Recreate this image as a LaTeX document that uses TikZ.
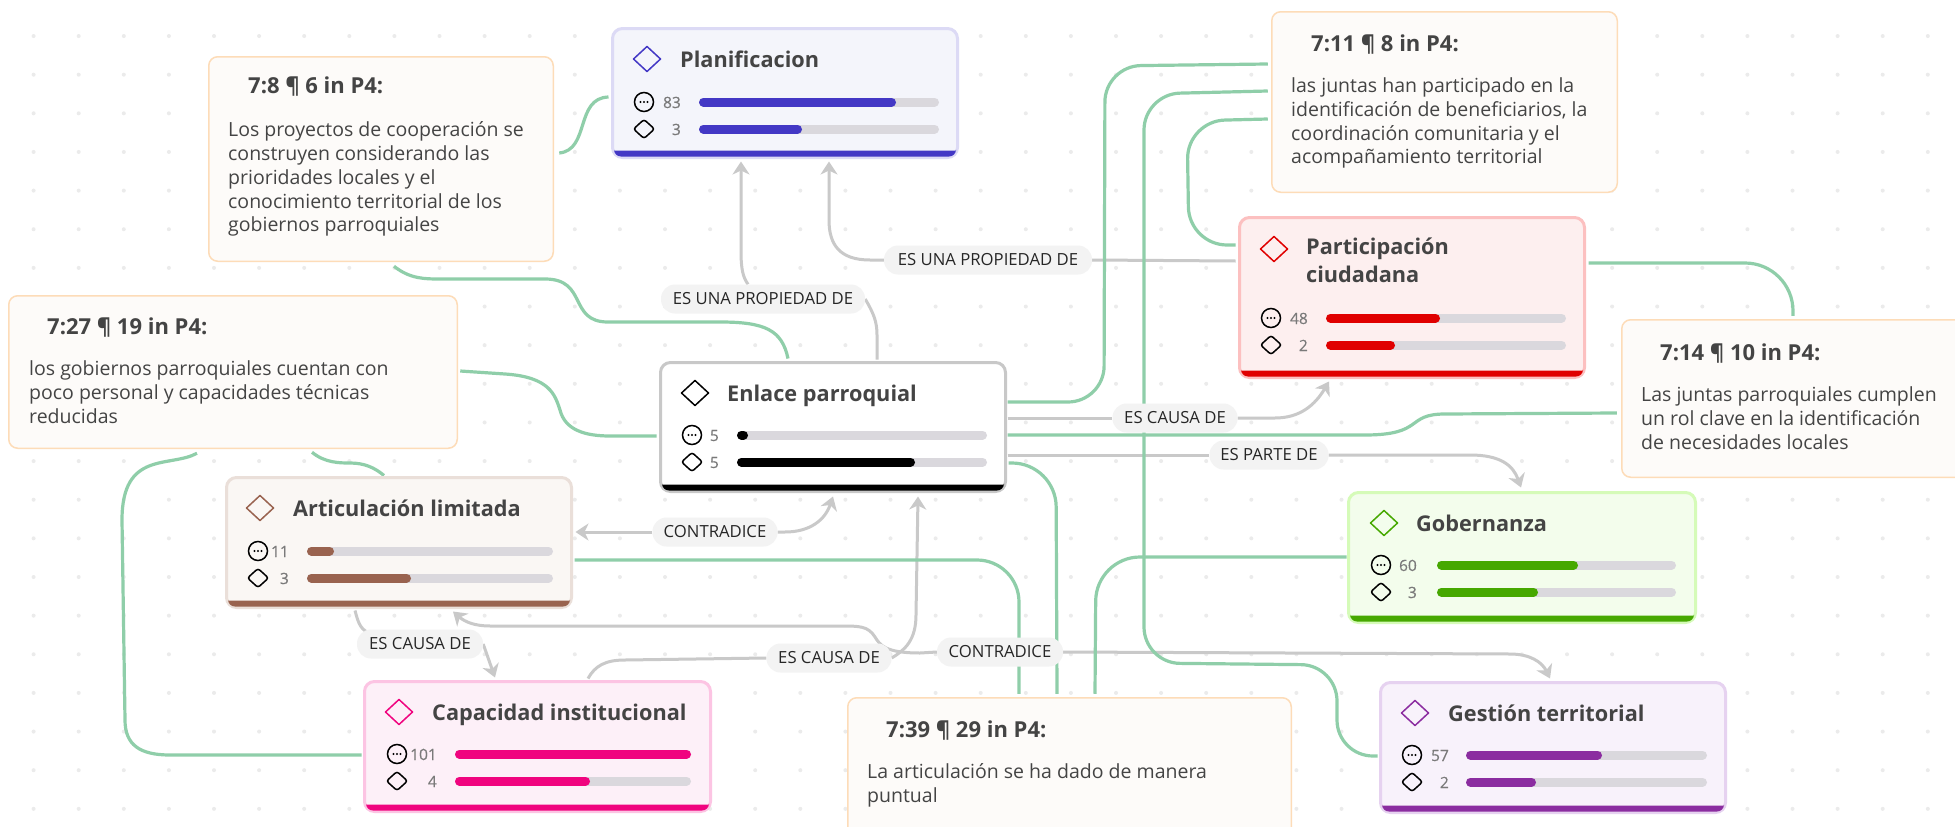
\documentclass[tikz,border=0pt]{standalone}
\usepackage{fontspec}
\setmainfont{Open Sans}
\newcommand{\semifont}{\bfseries}
\newfontfamily\numfont{Open Sans}[FakeBold=0.4]
\usetikzlibrary{arrows.meta}
\definecolor{greenl}{HTML}{8FCEA9}
\definecolor{grayl}{HTML}{C9C9C9}
\definecolor{labbg}{HTML}{F3F3F3}
\definecolor{notebg}{HTML}{FDFBF9}
\definecolor{notebd}{HTML}{FDDCB8}
\definecolor{txt}{HTML}{444444}
\definecolor{numc}{HTML}{7A7A7A}
\definecolor{track}{HTML}{DAD8DD}
\definecolor{cplan}{HTML}{4338C5}\definecolor{bplan}{HTML}{DCDAF5}\definecolor{fplan}{HTML}{F4F5FB}
\definecolor{cenl}{HTML}{000000}\definecolor{benl}{HTML}{C8C8C8}\definecolor{fenl}{HTML}{FFFFFF}
\definecolor{cart}{HTML}{99634F}\definecolor{bart}{HTML}{EADFD9}\definecolor{fart}{HTML}{FAF7F4}
\definecolor{ccap}{HTML}{F0047F}\definecolor{bcap}{HTML}{FCC4E3}\definecolor{fcap}{HTML}{FDF0F8}
\definecolor{cpar}{HTML}{E00000}\definecolor{bpar}{HTML}{FCC0C0}\definecolor{fpar}{HTML}{FDEFEF}
\definecolor{cgob}{HTML}{46A800}\definecolor{bgob}{HTML}{D5FBB8}\definecolor{fgob}{HTML}{F3FDEC}
\definecolor{cges}{HTML}{8B2DA0}\definecolor{bges}{HTML}{E6D2F0}\definecolor{fges}{HTML}{F8F2FB}
\pgfdeclarelayer{under}
\pgfsetlayers{under,main}
\tikzset{
  cardshape/.style={rounded corners=10pt,line width=3pt,inner sep=0pt,outer sep=0pt},
  noteshape/.style={draw=notebd,fill=notebg,rounded corners=9pt,line width=1.5pt,inner sep=0pt,outer sep=0pt},
  cardtitle/.style={anchor=base west,inner sep=0pt,align=left,font=\fontsize{21.7}{33}\semifont,text=txt},
  notetitle/.style={anchor=base west,inner sep=0pt,font=\fontsize{22}{24}\semifont,text=txt},
  notebody/.style={anchor=north west,inner sep=0pt,align=left,text=txt,font=\fontsize{19.5}{23.8}\selectfont},
  numtext/.style={anchor=base east,inner sep=0pt,text=numc,font=\fontsize{15.5}{18}\numfont},
  edgelab/.style={fill=labbg,rounded corners=14pt,inner sep=0pt,minimum height=29pt,text=black!85,font=\fontsize{16.7}{18}\selectfont},
  gline/.style={draw=greenl,line width=3.2pt},
  rline/.style={draw=grayl,line width=3pt},
  rarrow/.style={draw=grayl,line width=3pt,-{Stealth[length=13pt,width=17pt,inset=4pt]}},
}
\newcommand{\cardnode}[6]{%
  \def\cardid{#1}\def\cardcol{c#6}%
  \node[cardshape,draw=b#6,fill=f#6,minimum width={(#4-#2-3)*1pt},minimum height={(#5-#3-3)*1pt}] (#1) at ({(#2+#4)/2},{(#3+#5)/2}) {};
  \fill[c#6] ({#2+3},{#5-8.5}) -- ({#4-3},{#5-8.5}) [rounded corners=7pt] -- ({#4-3},{#5-2.5}) -- ({#2+3},{#5-2.5}) [sharp corners] -- cycle;
}
\newcommand{\carddiamond}[2]{%
  \draw[\cardcol,line width=1.5pt,line join=round] ({#1-13.5},#2) -- (#1,{#2-12.5}) -- ({#1+13.5},#2) -- (#1,{#2+12.5}) -- cycle;
}
\newcommand{\rowgeom}[4]{\def\rowicx{#1}\def\rownum{#2}\def\rowbara{#3}\def\rowbarb{#4}}
\newcommand{\rowbar}[2]{%
  \draw[track,line width=9pt,line cap=round] ({\rowbara+4.5},#1) -- ({\rowbarb-4.5},#1);
  \draw[\cardcol,line width=9pt,line cap=round] ({\rowbara+4.5},#1) -- ({#2-4.5},#1);
}
\newcommand{\rowq}[3]{%
  \draw[black,line width=1.5pt] (\rowicx,#1) circle[radius=9.5pt];
  \foreach \d in {-3.5,0,3.5} \fill[black] ({\rowicx+\d},#1) circle[radius=1.1pt];
  \node[numtext] (\cardid-q) at (\rownum,{#1+6}) {#3};
  \rowbar{#1}{#2}
}
\newcommand{\rowc}[3]{%
  \draw[black,line width=1.5pt,rounded corners=2.5pt] ({\rowicx-10.5},#1) -- (\rowicx,{#1-9.5}) -- ({\rowicx+10.5},#1) -- (\rowicx,{#1+9.5}) -- cycle;
  \node[numtext] (\cardid-c) at (\rownum,{#1+6}) {#3};
  \rowbar{#1}{#2}
}
\newcommand{\notenode}[5]{%
  \node[noteshape,minimum width={(#4-#2-1.5)*1pt},minimum height={(#5-#3-1.5)*1pt}] (#1) at ({(#2+#4)/2},{(#3+#5)/2}) {};
}
\begin{document}
\begin{tikzpicture}[x=1pt,y=-1pt]
\useasboundingbox (0,0) rectangle (1955,827);
\begin{pgfonlayer}{under}
  \fill[white] (0,0) rectangle (1955,827);
  \foreach \i in {0,...,42} \foreach \j in {0,...,21}
    \fill[black!8] ({33.6+45.1*\i},{-2.6+38.64*\j}) circle[radius=2pt];
\end{pgfonlayer}

% ---------- notes
\notenode{n8}{208}{56}{554}{262}
\node[notetitle] (n8t) at (248,93) {7:8 ¶ 6 in P4:};
\node[notebody] (n8b) at (228,121.5) {Los proyectos de cooperación se\\construyen considerando las\\prioridades locales y el\\conocimiento territorial de los\\gobiernos parroquiales};

\notenode{n27}{8}{295}{458}{449}
\node[notetitle] (n27t) at (47,334) {7:27 ¶ 19 in P4:};
\node[notebody] (n27b) at (29,360.5) {los gobiernos parroquiales cuentan con\\poco personal y capacidades técnicas\\reducidas};

\notenode{n11}{1271}{11}{1618}{193}
\node[notetitle] (n11t) at (1311,51) {7:11 ¶ 8 in P4:};
\node[notebody] (n11b) at (1291,77.5) {las juntas han participado en la\\identificación de beneficiarios, la\\coordinación comunitaria y el\\acompañamiento territorial};

\notenode{n14}{1621}{319}{1990}{478}
\node[notetitle] (n14t) at (1660,360) {7:14 ¶ 10 in P4:};
\node[notebody] (n14b) at (1641,386.5) {Las juntas parroquiales cumplen\\un rol clave en la identificación\\de necesidades locales};

\notenode{n39}{847}{697}{1292}{860}
\node[notetitle] (n39t) at (886,737) {7:39 ¶ 29 in P4:};
\node[notebody] (n39b) at (867,763.5) {La articulación se ha dado de manera\\puntual};

% ---------- cards
\cardnode{plan}{611}{27}{959}{159}{plan}
\carddiamond{647}{59}
\node[cardtitle] (plant) at (680,67) {Planificacion};
\rowgeom{644}{681}{699}{939}
\rowq{102}{896}{83}
\rowc{129}{802}{3}

\cardnode{enlace}{659}{361}{1007}{493}{enl}
\carddiamond{695}{393}
\node[cardtitle] (enlacet) at (727,401) {Enlace parroquial};
\rowgeom{692}{719}{737}{987}
\rowq{435}{748}{5}
\rowc{462}{915}{5}

\cardnode{art}{225}{476}{573}{609}{art}
\carddiamond{260}{508}
\node[cardtitle] (artt) at (293,516) {Articulación limitada};
\rowgeom{258}{289}{307}{553}
\rowq{551}{334}{11}
\rowc{578}{411}{3}

\cardnode{cap}{363}{680}{712}{813}{cap}
\carddiamond{399}{712}
\node[cardtitle] (capt) at (432,720) {Capacidad institucional};
\rowgeom{397}{437}{455}{691}
\rowq{754}{691}{101}
\rowc{781}{590}{4}

\cardnode{part}{1238}{216}{1586}{379}{par}
\carddiamond{1274}{249}
\node[anchor=north west,inner sep=0pt,align=left,font=\fontsize{21.7}{28}\semifont,text=txt] (partt) at (1306,238) {Participación\\ciudadana};
\rowgeom{1271}{1308}{1326}{1566}
\rowq{318}{1440}{48}
\rowc{345}{1395}{2}

\cardnode{gob}{1347}{491}{1697}{624}{gob}
\carddiamond{1384}{523}
\node[cardtitle] (gobt) at (1416,531) {Gobernanza};
\rowgeom{1381}{1417}{1437}{1676}
\rowq{565}{1578}{60}
\rowc{592}{1538}{3}

\cardnode{ges}{1379}{681}{1727}{814}{ges}
\carddiamond{1415}{713}
\node[cardtitle] (gest) at (1448,721) {Gestión territorial};
\rowgeom{1412}{1449}{1466}{1707}
\rowq{755}{1602}{57}
\rowc{782}{1536}{2}

% ---------- edge labels
\node[edgelab,minimum width=204pt] (lab1) at (763,299) {ES UNA PROPIEDAD DE};
\node[edgelab,minimum width=208pt] (lab2) at (988,260) {ES UNA PROPIEDAD DE};
\node[edgelab,minimum width=125pt] (lab3) at (1175,418) {ES CAUSA DE};
\node[edgelab,minimum width=119pt] (lab4) at (1269,455) {ES PARTE DE};
\node[edgelab,minimum width=125pt] (lab5) at (715,532) {CONTRADICE};
\node[edgelab,minimum width=126pt] (lab6) at (420,644) {ES CAUSA DE};
\node[edgelab,minimum width=125pt] (lab7) at (829,658) {ES CAUSA DE};
\node[edgelab,minimum width=126pt] (lab8) at (1000,652) {CONTRADICE};

% ---------- connectors
\begin{pgfonlayer}{under}
  % relations
  \draw[rline] ([yshift=3pt]enlace.north -| 877,0) -- (877,335) .. controls (877,322) and (874,314) .. (lab1.east);
  \draw[rarrow] (lab1.north -| 748,0) .. controls (743,277) and (741,270) .. (741,250) -- ([yshift=-4pt]plan.south -| 741,0);
  \draw[rline] ([xshift=-4pt]part.west |- 0,261) -- (lab2.east);
  \draw[rarrow] (lab2.west) -- (870,260) .. controls (840,260) and (829,245) .. (829,220) -- ([yshift=-4pt]plan.south -| 829,0);
  \draw[rline] ([xshift=2pt]enlace.east |- 0,418) -- (lab3.west);
  \draw[rarrow] (lab3.east) -- (1275,418) .. controls (1300,418) and (1315,405) .. ([yshift=-4pt]part.south -| 1329,0);
  \draw[rline] ([xshift=2pt]enlace.east |- 0,455) -- (lab4.west);
  \draw[rarrow] (lab4.east) -- (1470,455) .. controls (1500,455) and (1513,465) .. ([yshift=5pt]gob.north -| 1521,0);
  \draw[rarrow] (lab5.west) -- ([xshift=4pt]art.east |- 0,532);
  \draw[rarrow] (lab5.east) -- (785,532) .. controls (810,532) and (825,520) .. ([yshift=-5pt]enlace.south -| 833,0);
  \draw[rline] ([yshift=-3pt]art.south -| 355,0) .. controls (358,622) and (360,628) .. (367,632);
  \draw[rarrow] (lab6.east) -- ([yshift=4pt]cap.north -| 495,0);
  \draw[rline] ([yshift=3pt]cap.north -| 588,0) .. controls (595,666) and (605,660) .. (625,660) -- (lab7.west);
  \draw[rarrow] (lab7.east) .. controls (905,650) and (916,640) .. (916,615) -- ([yshift=-5pt]enlace.south -| 918,0);
  \draw[rarrow] (lab8.west) -- (920,653) .. controls (885,653) and (880,645) .. (875,637) .. controls (868,626) and (860,626) .. (840,626) -- (490,626) .. controls (475,626) and (465,622) .. ([yshift=-4pt]art.south -| 453,0);
  \draw[rarrow] (lab8.east) -- (1510,654) .. controls (1530,654) and (1542,662) .. ([yshift=4pt]ges.north -| 1550,0);
  % quotations
  \draw[gline] ([xshift=6pt]n8.east |- 0,153) .. controls (590,150) and (575,98) .. ([xshift=-4pt]plan.west |- 0,97);
  \draw[gline] ([yshift=-5pt]n8.south -| 394,0) .. controls (410,279) and (425,279) .. (440,279) -- (545,279) .. controls (588,279) and (568,322) .. (608,322) -- (720,322) .. controls (765,322) and (782,330) .. ([yshift=4pt]enlace.north -| 788,0);
  \draw[gline] ([xshift=3pt]n27.east |- 0,371) -- (505,374) .. controls (550,377) and (555,395) .. (560,410) .. controls (565,430) and (585,436) .. (610,436) -- ([xshift=-4pt]enlace.west |- 0,436);
  \draw[gline] ([yshift=-5pt]n27.south -| 197,0) .. controls (170,468) and (122,450) .. (122,520) -- (125,720) .. controls (125,745) and (140,755) .. (170,755) -- ([xshift=-3pt]cap.west |- 0,755);
  \draw[gline] ([yshift=-4pt]n27.south -| 312,0) .. controls (325,463) and (340,463) .. (350,463) .. controls (365,463) and (375,468) .. ([yshift=2pt]art.north -| 384,0);
  \draw[gline,rounded corners=42pt] ([xshift=3pt]art.east |- 0,560) -- (1019,560) -- ([yshift=4pt]n39.north -| 1019,0);
  \draw[gline,rounded corners=44pt] ([xshift=3pt]enlace.east |- 0,463) -- (1056,463) -- ([yshift=4pt]n39.north -| 1057,0);
  \draw[gline,rounded corners=44pt] ([xshift=-2pt]gob.west |- 0,557) -- (1096,557) -- ([yshift=4pt]n39.north -| 1095,0);
  \draw[gline,rounded corners=36pt] ([xshift=-4pt]n11.west |- 0,64) -- (1105,66) -- (1104,402) -- ([xshift=2pt]enlace.east |- 0,402);
  \draw[gline,rounded corners=36pt] ([xshift=-4pt]n11.west |- 0,91) -- (1144,94) -- (1144,663) -- (1337,665) -- (1337,756) -- ([xshift=-3pt]ges.west |- 0,756);
  \draw[gline,rounded corners=38pt] ([xshift=-4pt]n11.west |- 0,119) -- (1187,121) -- (1189,245) -- ([xshift=-4pt]part.west |- 0,245);
  \draw[gline,rounded corners=48pt] ([xshift=4pt]part.east |- 0,263) -- (1793,263) -- ([yshift=4pt]n14.north -| 1793,0);
  \draw[gline] ([xshift=-5pt]n14.west |- 0,413) -- (1445,414) .. controls (1405,414) and (1425,435) .. (1365,435) -- ([xshift=2pt]enlace.east |- 0,435);
\end{pgfonlayer}
\end{tikzpicture}
\end{document}
